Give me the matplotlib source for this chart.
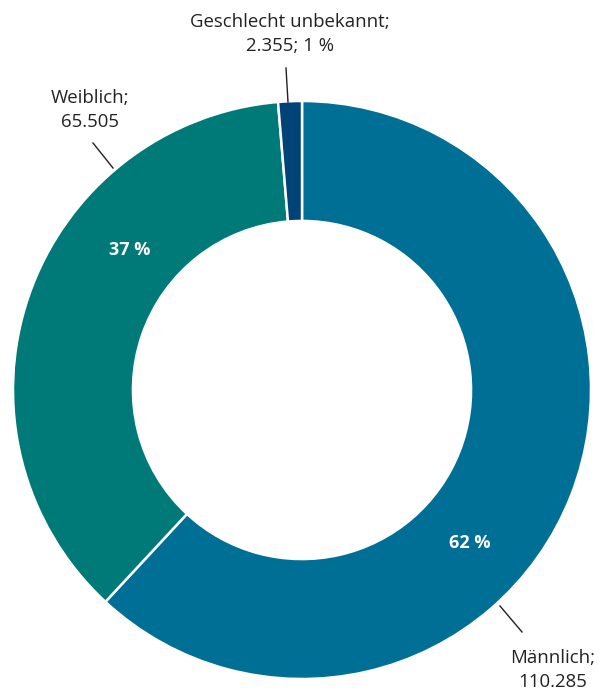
import matplotlib
matplotlib.use("Agg")
import matplotlib.pyplot as plt

categories = ["Männlich", "Weiblich", "Geschlecht unbekannt"]
counts = [110285, 65505, 2355]
colors = ["#006f96", "#007a78", "#004376"]

W, H = 598, 692
plt.rcParams['font.family'] = ['Open Sans', 'DejaVu Sans']

fig = plt.figure(figsize=(W / 100, H / 100), dpi=100)
ax = fig.add_axes([0, 0, 1, 1])

cx, cy, R = 302, H - 390, 289
wedges, _ = ax.pie(counts, colors=colors, startangle=90, counterclock=False,
                   center=(cx, cy), radius=R,
                   wedgeprops=dict(width=R * 0.415, edgecolor="white", linewidth=1.8))
ax.set_xlim(0, W)
ax.set_ylim(0, H)
ax.set_aspect("equal")
ax.axis("off")

def fmt(v):
    return f"{v:,}".replace(",", ".")

total = sum(counts)
pct = [round(100 * v / total) for v in counts]

# percentage labels inside the ring
ax.text(470, H - 543, f"{pct[0]} %", color="white", fontsize=13, fontweight="bold",
        ha="center", va="center")
ax.text(130, H - 250, f"{pct[1]} %", color="white", fontsize=13, fontweight="bold",
        ha="center", va="center")

# outside labels with leader lines
txt = "#222222"
fs = 13.4
ls = 1.4
ax.text(553, H - 670, f"{categories[0]};\n{fmt(counts[0])}", color=txt, fontsize=fs,
        ha="center", va="center", linespacing=ls)
ax.plot([500, 522], [H - 606, H - 632], color=txt, lw=1)

ax.text(90, H - 110, f"{categories[1]};\n{fmt(counts[1])}", color=txt, fontsize=fs,
        ha="center", va="center", linespacing=ls)
ax.plot([93, 113], [H - 143, H - 168], color=txt, lw=1)

ax.text(290, H - 34, f"{categories[2]};\n{fmt(counts[2])}; {pct[2]} %", color=txt,
        fontsize=fs, ha="center", va="center", linespacing=ls)
ax.plot([286, 288], [H - 68, H - 102], color=txt, lw=1)

fig.savefig("out.png", dpi=100)
